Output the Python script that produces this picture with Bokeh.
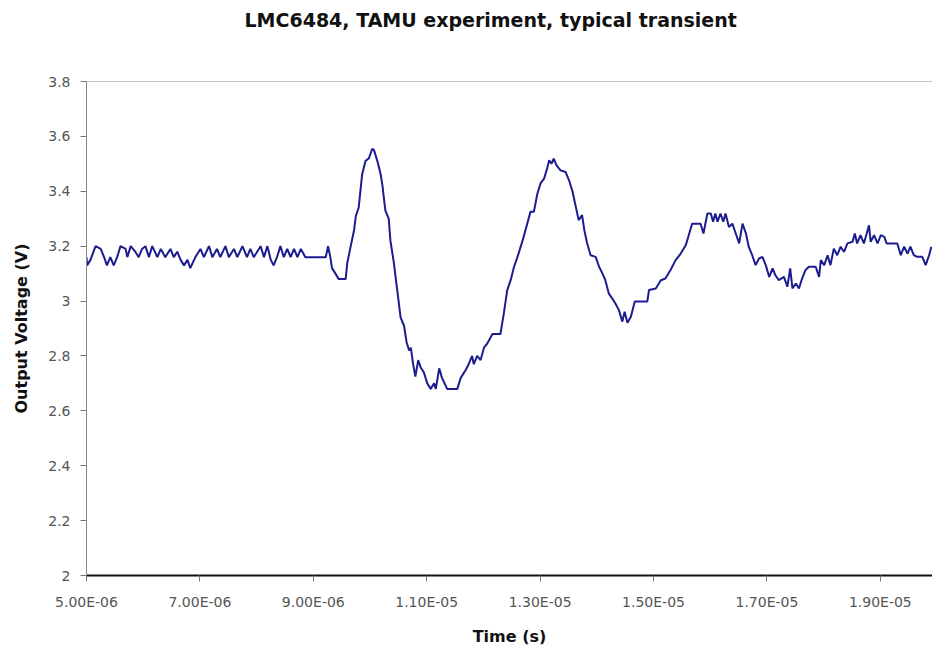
from bokeh.plotting import figure
from bokeh.models import Range1d, FixedTicker, Span, Title
from bokeh.embed import file_html
from bokeh.resources import INLINE

# Time in microseconds, output voltage in volts
time_us = [
    5.00, 5.01, 5.07, 5.16, 5.25, 5.31, 5.36, 5.42, 5.48, 5.54, 5.60, 5.69, 5.72, 5.78, 5.86, 5.92, 5.98,
    6.04, 6.10, 6.16, 6.25, 6.31, 6.39, 6.48, 6.54, 6.60, 6.66, 6.72, 6.78, 6.83, 6.92, 7.01, 7.07, 7.16,
    7.22, 7.30, 7.36, 7.45, 7.51, 7.60, 7.66, 7.75, 7.83, 7.89, 7.95, 8.07, 8.13, 8.19, 8.25, 8.30, 8.36,
    8.42, 8.48, 8.54, 8.60, 8.66, 8.72, 8.78, 8.86, 9.22, 9.26, 9.30, 9.33, 9.39, 9.45, 9.57,
    9.60, 9.66, 9.72, 9.75, 9.80, 9.83, 9.86, 9.92, 9.98, 10.04, 10.07, 10.13, 10.19, 10.22, 10.27, 10.33,
    10.36, 10.42, 10.48, 10.54, 10.60, 10.645, 10.69, 10.72, 10.76, 10.80, 10.85, 10.89, 10.95, 11.01,
    11.07, 11.13, 11.16, 11.22, 11.27, 11.36, 11.54, 11.60, 11.69, 11.74, 11.80, 11.83, 11.89, 11.95,
    12.01, 12.07, 12.16, 12.30, 12.36, 12.42, 12.48, 12.54, 12.60, 12.66, 12.71, 12.77, 12.83, 12.89,
    12.95, 13.01, 13.07, 13.13, 13.16, 13.20, 13.24, 13.29, 13.36, 13.45, 13.51, 13.57, 13.63, 13.68,
    13.74, 13.78, 13.83, 13.89, 13.98, 14.04, 14.10, 14.15, 14.21, 14.27, 14.33, 14.39, 14.45, 14.49,
    14.54, 14.60, 14.67, 14.89, 14.92, 15.04, 15.13, 15.21, 15.30, 15.39, 15.48, 15.57, 15.63, 15.68,
    15.83, 15.88, 15.95, 16.01, 16.05, 16.09, 16.13, 16.18, 16.23, 16.27, 16.33, 16.39, 16.45, 16.51,
    16.57, 16.63, 16.68, 16.74, 16.80, 16.86, 16.92, 16.98, 17.04, 17.10, 17.15, 17.21, 17.30, 17.36,
    17.41, 17.45, 17.51, 17.565, 17.62, 17.68, 17.74, 17.86, 17.92, 17.95, 18.01, 18.07, 18.12, 18.18,
    18.24, 18.30, 18.36, 18.42, 18.51, 18.55, 18.59, 18.65, 18.71, 18.76, 18.80, 18.83, 18.89, 18.95,
    19.01, 19.07, 19.11, 19.30, 19.36, 19.42, 19.48, 19.53, 19.59, 19.65, 19.74, 19.80, 19.86, 19.90,
]
voltage = [
    3.16, 3.13, 3.15, 3.20, 3.19, 3.16, 3.13, 3.16, 3.13, 3.16, 3.20, 3.19, 3.16, 3.20, 3.18, 3.16, 3.19,
    3.20, 3.16, 3.20, 3.16, 3.19, 3.16, 3.19, 3.16, 3.18, 3.15, 3.13, 3.15, 3.12, 3.16, 3.19, 3.16, 3.20,
    3.16, 3.19, 3.16, 3.20, 3.16, 3.19, 3.16, 3.20, 3.16, 3.19, 3.16, 3.20, 3.16, 3.20, 3.15, 3.13, 3.16,
    3.20, 3.16, 3.19, 3.16, 3.19, 3.16, 3.19, 3.16, 3.16, 3.20, 3.16, 3.12, 3.10, 3.08, 3.08,
    3.14, 3.20, 3.26, 3.31, 3.34, 3.40, 3.46, 3.51, 3.52, 3.555, 3.55, 3.51, 3.46, 3.42, 3.33, 3.30,
    3.22, 3.14, 3.04, 2.94, 2.91, 2.85, 2.82, 2.83, 2.77, 2.725, 2.785, 2.76, 2.74, 2.70,
    2.68, 2.70, 2.68, 2.755, 2.72, 2.68, 2.68, 2.72, 2.75, 2.77, 2.80, 2.77, 2.80, 2.785,
    2.83, 2.846, 2.88, 2.88, 2.955, 3.04, 3.076, 3.125, 3.16, 3.20, 3.234, 3.28, 3.325, 3.325,
    3.39, 3.43, 3.446, 3.488, 3.513, 3.50, 3.519, 3.494, 3.476, 3.47, 3.44, 3.40, 3.343, 3.295,
    3.313, 3.258, 3.21, 3.167, 3.161, 3.125, 3.10, 3.076, 3.028, 3.01, 2.99, 2.967, 2.925, 2.961,
    2.921, 2.943, 2.998, 2.998, 3.04, 3.046, 3.076, 3.082, 3.113, 3.149, 3.173, 3.204, 3.246, 3.282,
    3.282, 3.246, 3.319, 3.319, 3.289, 3.319, 3.289, 3.319, 3.289, 3.319, 3.27, 3.282, 3.246, 3.21,
    3.282, 3.246, 3.197, 3.167, 3.131, 3.155, 3.161, 3.131, 3.088, 3.119, 3.094, 3.076, 3.088, 3.052,
    3.119, 3.046, 3.064, 3.046, 3.082, 3.113, 3.125, 3.125, 3.088, 3.149, 3.131, 3.167, 3.131, 3.191,
    3.167, 3.198, 3.179, 3.21, 3.216, 3.246, 3.21, 3.24, 3.21, 3.246, 3.276, 3.216, 3.24, 3.21,
    3.24, 3.234, 3.21, 3.21, 3.167, 3.198, 3.173, 3.198, 3.167, 3.161, 3.161, 3.131, 3.167, 3.198,
]

x_ticks = [5, 7, 9, 11, 13, 15, 17, 19]
x_tick_labels = ["5.00E-06", "7.00E-06", "9.00E-06", "1.10E-05", "1.30E-05", "1.50E-05", "1.70E-05", "1.90E-05"]
y_ticks = [2.0, 2.2, 2.4, 2.6, 2.8, 3.0, 3.2, 3.4, 3.6, 3.8]
y_tick_labels = ["2", "2.2", "2.4", "2.6", "2.8", "3", "3.2", "3.4", "3.6", "3.8"]
title_text = "LMC6484, TAMU experiment, typical transient"

FONT = "DejaVu Sans"

p = figure(width=932, height=648, output_backend="svg", toolbar_location=None,
           x_range=Range1d(5, 19.92), y_range=Range1d(2, 3.8),
           min_border_left=86, min_border_right=0, min_border_top=81, min_border_bottom=72,
           title=title_text)
p.background_fill_color = "white"
p.border_fill_color = "white"
p.outline_line_color = None
p.xgrid.visible = False
p.ygrid.visible = False

p.title.align = "left"
p.title.offset = 158
p.title.text_font = FONT
p.title.text_font_size = "19px"
p.title.text_font_style = "bold"
p.title.text_color = "#111111"
p.title.standoff = 0

# empty spacer panel between the title and the plot frame
p.add_layout(Title(text=" ", text_font_size="10px", standoff=38), "above")

p.line(time_us, voltage, line_color="#1c1c8f", line_width=2)

p.add_layout(Span(location=3.8, dimension="width", line_color="#888888", line_width=1))

xa = p.xaxis[0]
xa.ticker = FixedTicker(ticks=x_ticks)
xa.major_label_overrides = {t: s for t, s in zip(x_ticks, x_tick_labels)}
xa.axis_label = "Time (s)"
xa.axis_label_text_font = FONT
xa.axis_label_text_font_size = "16px"
xa.axis_label_text_font_style = "bold"
xa.axis_label_text_color = "#111111"
xa.axis_label_standoff = 14
xa.major_label_text_font = FONT
xa.major_label_text_font_size = "14px"
xa.major_label_text_color = "#555555"
xa.major_label_standoff = 12
xa.axis_line_color = "#111111"
xa.axis_line_width = 2
xa.major_tick_line_color = "#777777"
xa.major_tick_in = 0
xa.major_tick_out = 6
xa.minor_tick_line_color = None

ya = p.yaxis[0]
ya.ticker = FixedTicker(ticks=y_ticks)
ya.major_label_overrides = {t: s for t, s in zip(y_ticks, y_tick_labels)}
ya.axis_label = "Output Voltage (V)"
ya.axis_label_text_font = FONT
ya.axis_label_text_font_size = "16px"
ya.axis_label_text_font_style = "bold"
ya.axis_label_text_color = "#111111"
ya.axis_label_standoff = 14
ya.major_label_text_font = FONT
ya.major_label_text_font_size = "14px"
ya.major_label_text_color = "#555555"
ya.major_label_standoff = 10
ya.axis_line_color = "#888888"
ya.axis_line_width = 1
ya.major_tick_line_color = "#777777"
ya.major_tick_in = 0
ya.major_tick_out = 6
ya.minor_tick_line_color = None

open("out.html", "w").write(file_html(p, INLINE))
